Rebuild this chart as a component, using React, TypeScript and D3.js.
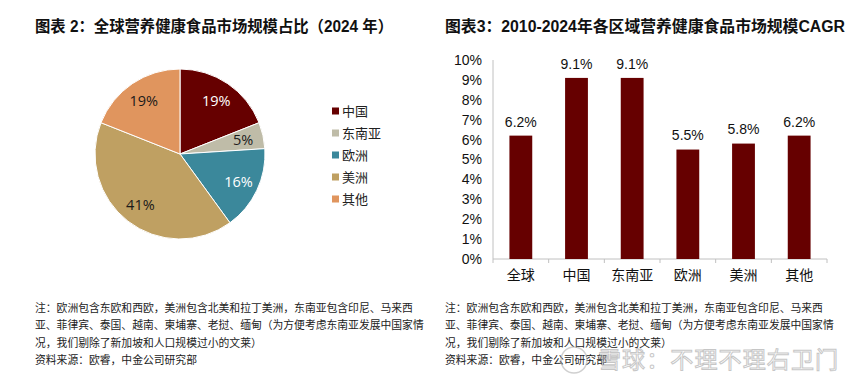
import React from "react";
import * as d3 from "d3";

const regions = ["中国", "东南亚", "欧洲", "美洲", "其他"];
const shares = [19, 5, 16, 41, 19];
const pieColors = ["#660000", "#BFBCA8", "#3B889B", "#BFA062", "#E0955E"];
const pieLabelColors = ["#ffffff", "#1a1a1a", "#ffffff", "#1a1a1a", "#1a1a1a"];

const cagrCats = ["全球", "中国", "东南亚", "欧洲", "美洲", "其他"];
const cagrVals = [6.2, 9.1, 9.1, 5.5, 5.8, 6.2];
const yTicks = [0, 1, 2, 3, 4, 5, 6, 7, 8, 9, 10];

const noteLines = [
  "注：欧洲包含东欧和西欧，美洲包含北美和拉丁美洲，东南亚包含印尼、马来西",
  "亚、菲律宾、泰国、越南、柬埔寨、老挝、缅甸（为方便考虑东南亚发展中国家情",
  "况，我们剔除了新加坡和人口规模过小的文莱）",
  "资料来源：欧睿，中金公司研究部",
];

const cjk = "'Noto Sans CJK SC', 'Liberation Sans', sans-serif";
const latin = "'Liberation Sans', 'Noto Sans CJK SC', sans-serif";

const App = () => {
  // pie
  const cx = 180;
  const cy = 154;
  const r = 85;
  const pie = d3.pie<number>().sort(null).value((d) => d);
  const arcs = pie(shares);
  const arc = d3.arc<d3.PieArcDatum<number>>().innerRadius(0).outerRadius(r);
  const labelArc = d3
    .arc<d3.PieArcDatum<number>>()
    .innerRadius(r * 0.76)
    .outerRadius(r * 0.76);

  // bars
  const left = 493;
  const right = 827;
  const top = 60;
  const bottom = 259;
  const x = d3.scaleBand().domain(cagrCats).range([left, right]).paddingInner(0.59).paddingOuter(0.295);
  const xb = d3.scaleBand().domain(cagrCats).range([left, right]);
  const y = d3.scaleLinear().domain([0, 10]).range([bottom, top]);

  return (
    <svg width={865} height={385} style={{ position: "absolute", left: 0, top: 0, background: "#fff" }}>
      <text x={35} y={32} fontFamily={latin} fontWeight="bold" fontSize={16} fill="#111" textLength={358} lengthAdjust="spacingAndGlyphs">
        图表 2：全球营养健康食品市场规模占比（2024 年）
      </text>
      <text x={445} y={32} fontFamily={latin} fontWeight="bold" fontSize={16} fill="#111" textLength={400} lengthAdjust="spacingAndGlyphs">
        图表3：2010-2024年各区域营养健康食品市场规模CAGR
      </text>

      <g transform={`translate(${cx},${cy})`}>
        {arcs.map((a, i) => (
          <path key={i} d={arc(a) || ""} fill={pieColors[i]} stroke="#fff" strokeWidth={1} />
        ))}
        {arcs.map((a, i) => {
          const [lx, ly] = labelArc.centroid(a);
          return (
            <text
              key={i}
              x={lx}
              y={ly}
              dy="0.35em"
              textAnchor="middle"
              fontFamily="'Open Sans', 'Noto Sans', sans-serif"
              fontSize={14.5}
              fill={pieLabelColors[i]}
            >
              {a.data}%
            </text>
          );
        })}
      </g>

      {regions.map((name, i) => (
        <g key={name} transform={`translate(332,${111 + i * 22})`}>
          <rect x={0} y={-3.5} width={7} height={7} fill={pieColors[i]} />
          <text x={10} y={0} dy="0.35em" fontFamily={cjk} fontSize={13} fill="#222">
            {name}
          </text>
        </g>
      ))}

      {/* bar chart */}
      <line x1={left} x2={left} y1={top} y2={bottom} stroke="#c0c0c0" />
      <line x1={left} x2={right} y1={bottom} y2={bottom} stroke="#c0c0c0" />
      {cagrCats.map((c) => (
        <line key={c} x1={xb(c)!} x2={xb(c)!} y1={bottom} y2={bottom + 4} stroke="#c0c0c0" />
      ))}
      <line x1={right} x2={right} y1={bottom} y2={bottom + 4} stroke="#c0c0c0" />
      {yTicks.map((t) => (
        <text key={t} x={482} y={y(t)} dy="0.35em" textAnchor="end" fontFamily={latin} fontSize={14} fill="#111">
          {t}%
        </text>
      ))}
      {cagrCats.map((c, i) => (
        <g key={c}>
          <rect x={x(c)!} y={y(cagrVals[i])} width={x.bandwidth()} height={bottom - y(cagrVals[i])} fill="#660000" />
          <text
            x={x(c)! + x.bandwidth() / 2}
            y={y(cagrVals[i]) - 14}
            dy="0.35em"
            textAnchor="middle"
            fontFamily={latin}
            fontSize={14}
            fill="#111"
          >
            {cagrVals[i].toFixed(1)}%
          </text>
          <text
            x={xb(c)! + xb.bandwidth() / 2}
            y={275}
            dy="0.35em"
            textAnchor="middle"
            fontFamily={cjk}
            fontSize={14}
            fill="#111"
          >
            {c}
          </text>
        </g>
      ))}

      {[35, 445].map((nx) => (
        <g key={nx}>
          {noteLines.map((l, i) => (
            <text key={i} x={nx} y={308 + i * 17.5} dy="0.35em" fontFamily={cjk} fontSize={10.8} fill="#222">
              {l}
            </text>
          ))}
        </g>
      ))}

      {/* watermark */}
      <g opacity={0.55}>
        <circle cx={574} cy={360} r={13} fill="none" stroke="#aaa" strokeWidth={1.5} />
        <text
          x={598}
          y={360}
          dy="0.35em"
          fontFamily={cjk}
          fontSize={23}
          fill="#fff"
          stroke="#999"
          strokeWidth={1}
          textLength={240}
        >
          雪球：不理不理右卫门
        </text>
      </g>
    </svg>
  );
};

export default App;
